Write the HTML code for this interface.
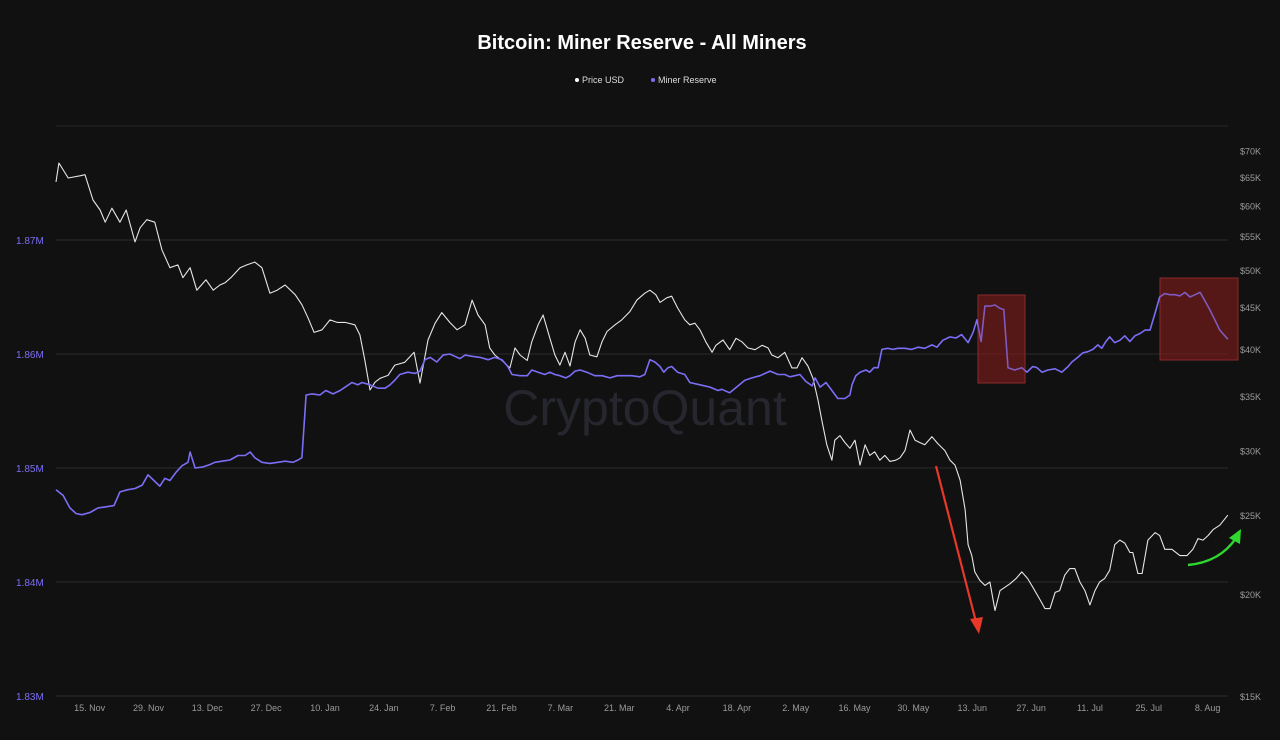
<!DOCTYPE html>
<html><head><meta charset="utf-8"><style>
html,body{margin:0;padding:0;background:#111111;}
body{width:1280px;height:740px;overflow:hidden;font-family:"Liberation Sans",Arial,sans-serif;}
</style></head><body>
<svg id="chart" width="1280" height="740" xmlns="http://www.w3.org/2000/svg" style="position:absolute;left:0;top:0">
<rect x="0" y="0" width="1280" height="740" fill="#111111"/>
<text x="642" y="49" text-anchor="middle" fill="#ffffff" font-size="20" font-weight="bold" font-family="Liberation Sans, sans-serif">Bitcoin: Miner Reserve - All Miners</text>
<g font-size="9" fill="#dddddd">
<g><circle cx="577" cy="80" r="2" fill="#ffffff"/><text x="582" y="83">Price USD</text></g>
<g><circle cx="653" cy="80" r="2" fill="#7b6ef6"/><text x="658" y="83">Miner Reserve</text></g>
</g>
<text x="645" y="425" text-anchor="middle" fill="#26262e" font-size="50" font-family="Liberation Sans, sans-serif">CryptoQuant</text>
<g id="grid"></g>
<g id="axes"></g>
<g id="annotations-back"></g>
<g id="series"></g>
<g id="annotations"></g>
</svg>
<script>
const dateLabels=["15. Nov","29. Nov","13. Dec","27. Dec","10. Jan","24. Jan","7. Feb","21. Feb","7. Mar","21. Mar","4. Apr","18. Apr","2. May","16. May","30. May","13. Jun","27. Jun","11. Jul","25. Jul","8. Aug"];
const dateTickDays=[8,22,36,50,64,78,92,106,120,134,148,162,176,190,204,218,232,246,260,274];
const reserveTicks=[1.83,1.84,1.85,1.86,1.87];
const reserveTickLabels=["1.83M","1.84M","1.85M","1.86M","1.87M"];
const priceTicks=[15,20,25,30,35,40,45,50,55,60,65,70];
const priceTickLabels=["$15K","$20K","$25K","$30K","$35K","$40K","$45K","$50K","$55K","$60K","$65K","$70K"];
const priceDays=[0,0.7,2.9,5.7,6.9,8.8,10.5,11.7,13.3,15.2,16.7,18.8,20.0,21.6,23.5,25.2,27.1,29.0,30.2,31.9,33.5,35.7,37.4,39.0,40.2,41.6,43.8,45.4,47.3,49.0,50.9,52.6,54.5,56.9,58.5,60.0,61.4,63.3,65.2,66.9,68.8,71.1,72.3,73.5,74.7,75.9,77.1,79.0,80.6,83.0,85.2,86.6,88.5,90.2,91.8,93.7,95.4,97.3,99.0,100.4,102.1,103.2,104.4,106.1,108.0,109.2,110.4,112.1,113.2,114.7,115.9,117.5,118.7,119.9,121.1,122.3,123.5,124.7,125.9,127.0,128.7,129.9,131.1,133.0,134.6,136.5,138.2,140.1,141.3,142.7,143.7,145.3,146.5,147.9,149.6,150.8,152.0,153.2,154.6,156.1,157.0,158.7,160.3,161.8,163.2,164.6,166.3,168.0,169.4,170.3,171.8,173.4,175.1,176.3,177.5,178.9,180.1,181.3,182.2,183.4,184.6,185.3,186.5,187.7,188.9,190.1,191.3,192.5,193.6,194.8,196.0,197.2,198.4,199.8,200.8,202.0,203.2,204.4,205.5,206.7,208.4,209.8,211.5,212.7,213.9,215.1,216.3,217.0,217.9,218.6,219.8,221.0,222.2,223.4,224.6,225.8,227.0,228.4,229.8,231.2,232.4,234.1,235.3,236.5,237.7,238.8,240.0,241.2,242.4,243.6,244.8,246.0,247.2,248.3,249.5,250.7,251.9,253.1,254.3,255.5,256.2,257.4,258.4,259.8,261.5,262.6,263.8,265.5,267.4,269.1,270.5,271.7,272.9,274.1,275.3,276.9,278.8];
const priceVals=[64.1,67.6,64.8,65.2,65.4,60.9,59.2,57.2,59.5,57.2,59.2,54.1,56.3,57.6,57.2,52.9,50.3,50.7,48.9,50.3,47.2,48.6,47.2,47.9,48.2,48.9,50.3,50.7,51.1,50.3,46.8,47.2,47.9,46.6,45.3,43.6,41.9,42.2,43.4,43.1,43.1,42.8,41.6,38.7,35.6,36.4,36.8,37.1,38.2,38.5,39.6,36.3,41.0,43.0,44.3,43.1,42.2,42.8,45.9,44.0,42.8,40.1,39.3,38.7,37.9,40.1,39.3,38.7,40.8,42.8,44.0,41.2,39.3,38.2,39.6,38.1,40.8,42.2,41.2,39.3,39.1,40.8,42.0,42.8,43.4,44.4,45.9,46.8,47.2,46.6,45.6,46.2,46.4,44.9,43.4,42.8,43.0,42.2,40.8,39.6,40.4,41.0,39.9,41.2,40.8,40.1,39.9,40.4,40.1,39.3,39.0,39.6,37.9,37.9,39.0,38.1,36.8,34.6,32.7,30.5,29.2,30.9,31.3,30.7,30.2,30.9,28.8,30.5,29.6,29.9,29.2,29.6,29.1,29.2,29.4,30.0,31.8,30.9,30.7,30.5,31.2,30.6,30.0,29.2,28.8,27.6,25.4,23.0,22.3,21.3,20.8,20.5,20.7,19.1,20.2,20.4,20.6,20.9,21.3,20.9,20.4,19.7,19.2,19.2,20.1,20.2,21.1,21.5,21.5,20.7,20.2,19.4,20.2,20.7,20.9,21.4,23.0,23.3,23.1,22.5,22.5,21.2,21.2,23.3,23.8,23.6,22.7,22.7,22.3,22.3,22.7,23.4,23.3,23.6,24.0,24.3,25.0];
const reserveDays=[0,1.7,3.3,4.8,6.2,8.1,10.0,11.9,13.8,15.2,17.1,18.8,20.5,21.9,23.3,24.7,25.9,27.1,28.5,30.0,31.4,31.9,33.1,35.0,36.6,37.8,39.5,41.4,43.3,45.0,46.2,47.3,49.0,50.9,52.8,54.5,56.4,57.6,58.5,59.5,60.9,62.8,64.2,65.9,67.6,68.8,70.4,71.8,72.8,74.7,76.6,78.3,79.5,80.6,81.8,83.7,85.4,86.6,87.8,89.0,90.6,92.1,93.7,94.9,96.1,97.3,99.0,100.9,102.8,104.4,106.1,107.5,108.5,110.4,112.1,113.2,114.7,116.3,117.5,118.7,119.9,121.3,122.3,123.5,124.7,126.3,128.2,129.9,131.8,133.5,135.4,137.0,138.9,140.1,141.3,142.5,143.7,144.6,145.6,146.5,147.9,149.6,150.8,153.2,155.6,157.5,158.4,160.3,162.3,163.9,165.6,167.5,169.9,171.8,173.4,174.6,175.8,177.0,178.4,179.9,180.6,181.8,183.2,184.6,186.0,187.7,188.9,189.4,190.3,191.3,192.7,193.6,194.6,195.6,196.5,197.9,199.1,200.3,202.0,203.6,205.1,206.7,208.4,209.6,211.0,212.7,214.1,215.5,217.0,218.2,219.1,220.1,221.0,222.2,223.4,224.6,225.5,226.5,228.1,229.8,231.0,232.4,233.4,234.6,236.0,237.7,239.3,240.8,241.7,243.1,244.3,245.5,246.7,247.9,248.8,249.8,250.7,251.9,253.1,254.3,255.5,256.7,257.9,259.1,260.3,261.5,262.6,263.8,265.0,266.2,267.4,268.6,269.8,271.0,272.2,273.3,274.5,275.7,276.9,278.8];
const reserveVals=[1.8481,1.8476,1.8465,1.8460,1.8459,1.8461,1.8465,1.8466,1.8467,1.8479,1.8481,1.8482,1.8485,1.8494,1.8489,1.8484,1.8491,1.8489,1.8496,1.8502,1.8505,1.8514,1.8500,1.8501,1.8503,1.8505,1.8506,1.8507,1.8511,1.8511,1.8514,1.8509,1.8505,1.8504,1.8505,1.8506,1.8505,1.8507,1.8509,1.8564,1.8565,1.8564,1.8568,1.8565,1.8568,1.8571,1.8575,1.8573,1.8575,1.8573,1.8570,1.8570,1.8573,1.8577,1.8582,1.8584,1.8583,1.8585,1.8595,1.8597,1.8593,1.8599,1.8600,1.8598,1.8596,1.8599,1.8598,1.8597,1.8595,1.8597,1.8595,1.8589,1.8582,1.8581,1.8581,1.8586,1.8584,1.8582,1.8584,1.8582,1.8581,1.8579,1.8581,1.8585,1.8586,1.8584,1.8581,1.8581,1.8579,1.8581,1.8581,1.8581,1.8580,1.8582,1.8595,1.8593,1.8589,1.8584,1.8588,1.8589,1.8584,1.8582,1.8575,1.8573,1.8571,1.8568,1.8569,1.8566,1.8572,1.8577,1.8579,1.8581,1.8585,1.8582,1.8582,1.8580,1.8581,1.8582,1.8576,1.8572,1.8579,1.8571,1.8575,1.8568,1.8561,1.8561,1.8564,1.8573,1.8581,1.8584,1.8586,1.8584,1.8588,1.8588,1.8604,1.8605,1.8604,1.8605,1.8605,1.8604,1.8606,1.8605,1.8608,1.8606,1.8612,1.8615,1.8614,1.8617,1.8610,1.8619,1.8630,1.8611,1.8642,1.8642,1.8643,1.8640,1.8639,1.8588,1.8586,1.8588,1.8584,1.8589,1.8588,1.8584,1.8586,1.8587,1.8584,1.8589,1.8593,1.8597,1.8601,1.8602,1.8604,1.8608,1.8605,1.8611,1.8615,1.8610,1.8612,1.8616,1.8611,1.8616,1.8618,1.8621,1.8621,1.8636,1.8650,1.8653,1.8652,1.8652,1.8651,1.8654,1.8650,1.8652,1.8654,1.8647,1.8639,1.8630,1.8621,1.8613];

const NS="http://www.w3.org/2000/svg";
function xScale(d){return 56+d*4.203;}
function yRes(v){return 696-(v-1.83)*11400;}
function yPrice(v){return 696-354*Math.log(v/15);}
function mk(tag,attrs,parent){const e=document.createElementNS(NS,tag);for(const k in attrs)e.setAttribute(k,attrs[k]);parent.appendChild(e);return e;}

const grid=document.getElementById('grid'),axes=document.getElementById('axes'),series=document.getElementById('series'),ann=document.getElementById('annotations'),annBack=document.getElementById('annotations-back');
const topLine=mk('line',{x1:56,x2:1228,y1:126,y2:126,stroke:'#262626','stroke-width':1},grid);


reserveTicks.forEach((t,i)=>{
  const y=yRes(t);
  const g=mk('line',{x1:56,x2:1228,y1:y,y2:y,stroke:'#2a2a2a','stroke-width':1},grid);
  
  
  const tx=mk('text',{x:16,y:y+4,fill:'#7b6ef6','font-size':10},axes);
  tx.textContent=reserveTickLabels[i];
  
  
});
priceTicks.forEach((t,i)=>{
  const tx=mk('text',{x:1240,y:yPrice(t)+4,fill:'#9a9a9a','font-size':9},axes);
  tx.textContent=priceTickLabels[i];
  
  
});
dateTickDays.forEach((d,i)=>{
  const tx=mk('text',{x:xScale(d),y:711,fill:'#9a9a9a','font-size':9,'text-anchor':'middle'},axes);
  tx.textContent=dateLabels[i];
  
  
});

// highlight boxes
const box1=mk('rect',{x:978,y:295,width:47,height:88,fill:'rgba(130,25,25,0.45)',stroke:'#8a2b2b','stroke-width':1},annBack);


const box2=mk('rect',{x:1160,y:278,width:78,height:82,fill:'rgba(130,25,25,0.45)',stroke:'#8a2b2b','stroke-width':1},annBack);



const pPts=priceDays.map((d,i)=>xScale(d).toFixed(1)+','+yPrice(priceVals[i]).toFixed(1)).join(' ');
const pl=mk('polyline',{points:pPts,fill:'none',stroke:'#e6e6e6','stroke-width':1.1,'stroke-linejoin':'round'},series);


const rPts=reserveDays.map((d,i)=>xScale(d).toFixed(1)+','+yRes(reserveVals[i]).toFixed(1)).join(' ');
const rl=mk('polyline',{points:rPts,fill:'none',stroke:'#7b6ef6','stroke-width':1.6,'stroke-linejoin':'round'},series);



// overlay tint on boxes
const ov1=mk('rect',{x:978,y:295,width:47,height:88,fill:'rgba(140,30,30,0.25)'},ann);


const ov2=mk('rect',{x:1160,y:278,width:78,height:82,fill:'rgba(140,30,30,0.25)'},ann);



// red arrow
const ra=mk('line',{x1:936,y1:466,x2:976,y2:622,stroke:'#e8382a','stroke-width':2.2},ann);


const rh=mk('polygon',{points:'979,634 970,619 983,617',fill:'#e8382a'},ann);


// green arrow
const ga=mk('path',{d:'M1188,565 Q1220,562 1236,538',fill:'none',stroke:'#2ed82e','stroke-width':2.4},ann);


const gh=mk('polygon',{points:'1241,529 1240,544 1229,538',fill:'#2ed82e'},ann);


</script>
</body></html>
